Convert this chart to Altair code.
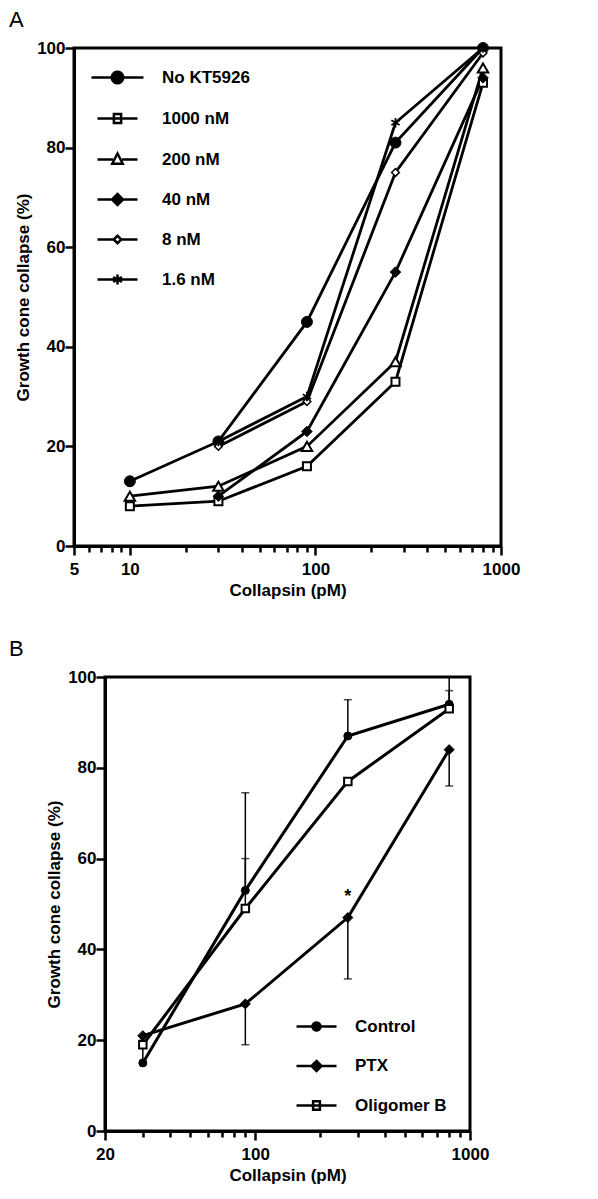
import math
import altair as alt
import pandas as pd

FONT = "Liberation Sans"

# ---------------- Panel A data ----------------
conc_a = [10, 30, 90, 270, 800]
series_a = ["No KT5926", "1000 nM", "200 nM", "40 nM", "8 nM", "1.6 nM"]
no_kt = [13, 21, 45, 81, 100]
nm1000 = [8, 9, 16, 33, 93]
nm200 = [10, 12, 20, 37, 96]
nm40 = [None, 10, 23, 55, 94]
nm8 = [None, 20, 29, 75, 99]
nm1_6 = [None, 21, 30, 85, 100]
values_a = [no_kt, nm1000, nm200, nm40, nm8, nm1_6]
x_ticks_a = [5, 6, 7, 8, 9, 10, 20, 30, 40, 50, 60, 70, 80, 90, 100,
             200, 300, 400, 500, 600, 700, 800, 900, 1000]
x_labels_a = [5, 10, 100, 1000]
y_ticks = [0, 20, 40, 60, 80, 100]

# ---------------- Panel B data ----------------
conc_b = [30, 90, 270, 800]
series_b = ["Control", "PTX", "Oligomer B"]
control = [15, 53, 87, 94]
ptx = [21, 28, 47, 84]
oligo = [19, 49, 77, 93]
values_b = [control, ptx, oligo]
control_err_end = [20, 74.5, 95, 100]
ptx_err_end = [None, 19, 33.5, 76]
oligo_err_end = [None, 60, None, 97]
err_ends_b = [control_err_end, ptx_err_end, oligo_err_end]
star_x = [270]
star_y = [51.5]
x_ticks_b = [20, 30, 40, 50, 60, 70, 80, 90, 100,
             200, 300, 400, 500, 600, 700, 800, 900, 1000]
x_labels_b = [20, 100, 1000]


def long_df(series, concs, values):
    rows = []
    for s, vals in zip(series, values):
        for c, v in zip(concs, vals):
            if v is not None:
                rows.append({"series": s, "conc": c, "value": v})
    return pd.DataFrame(rows)


df_a = long_df(series_a, conc_a, values_a)
df_b = long_df(series_b, conc_b, values_b)
err_rows = []
for s, vals, ends in zip(series_b, values_b, err_ends_b):
    for c, v, e in zip(conc_b, vals, ends):
        if e is not None:
            err_rows.append({"series": s, "conc": c, "value": v, "end": e})
df_err = pd.DataFrame(err_rows)
df_star = pd.DataFrame({"conc": star_x, "value": star_y})


# ---------------- symbol paths (styles) ----------------
def poly(pts):
    return "M" + "L".join(f"{x:.3f},{y:.3f}" for x, y in pts) + "Z"


def circle(r, n=20):
    return poly([(r * math.cos(2 * math.pi * k / n), r * math.sin(2 * math.pi * k / n)) for k in range(n)])


def triangle(r):
    return poly([(0, -1.15 * r), (r, 0.8 * r), (-r, 0.8 * r)])


def diamond(r):
    return poly([(0, -r), (r, 0), (0, r), (-r, 0)])


def square(r):
    return poly([(-0.8 * r, -r), (0.8 * r, -r), (0.8 * r, r), (-0.8 * r, r)])


def asterisk(r):
    a = 0.87 * r
    b = 0.5 * r
    return (f"M0,{-r}V{r}M{-a:.3f},{-b:.3f}L{a:.3f},{b:.3f}"
            f"M{-a:.3f},{b:.3f}L{a:.3f},{-b:.3f}")


def full_line(L):
    return f"M{-L},0H{L}"


def split_line(L, r):
    return f"M{-L},0H{-r}M{r},0H{L}"


legend_paths_a = [
    full_line(5.2) + circle(1.15),
    full_line(4.0) + square(0.9),
    split_line(4.0, 0.9) + triangle(1.05),
    full_line(4.0) + diamond(1.1),
    split_line(4.0, 0.75) + diamond(0.75),
    full_line(4.0) + asterisk(1.0),
]
legend_fill_a = ["black", "white", "white", "black", "white", "black"]

legend_paths_b = [
    full_line(4.0) + circle(0.8),
    full_line(4.0) + diamond(1.0),
    full_line(4.0) + square(0.85),
]
legend_fill_b = ["black", "black", "white"]

ASTER = asterisk(1.0)
marker_style_a = {
    "No KT5926": dict(shape="circle", size=120, fill="black", strokeWidth=1),
    "1000 nM": dict(shape="square", size=64, fill="white", strokeWidth=2),
    "200 nM": dict(shape="triangle-up", size=110, fill="white", strokeWidth=2),
    "40 nM": dict(shape="diamond", size=110, fill="black", strokeWidth=1),
    "8 nM": dict(shape="diamond", size=60, fill="white", strokeWidth=1.5),
    "1.6 nM": dict(shape=ASTER, size=90, fill="transparent", strokeWidth=1.8),
}
marker_style_b = {
    "Control": dict(shape="circle", size=64, fill="black", strokeWidth=1),
    "PTX": dict(shape="diamond", size=100, fill="black", strokeWidth=1),
    "Oligomer B": dict(shape="square", size=56, fill="white", strokeWidth=2),
}


def tick_test(labels):
    return " || ".join(f"datum.value == {v}" for v in labels)


def x_axis(ticks, labels):
    t = tick_test(labels)
    return alt.Axis(
        values=ticks,
        title="Collapsin (pM)",
        labelExpr=f"({t}) ? format(datum.value, 'd') : ''",
        tickSize={"condition": {"test": t, "value": 9}, "value": 6},
        labelOverlap=False,
        labelFlush=False,
        labelPadding=6,
        titlePadding=5,
    )


y_axis = alt.Axis(values=y_ticks, title="Growth cone collapse (%)", tickSize=9,
                  labelPadding=0, titlePadding=4)


def legend(pos, label_offset, row_pad):
    return alt.Legend(
        title=None, orient="none", legendX=pos[0], legendY=pos[1], padding=0,
        labelFont=FONT, labelFontSize=17, labelFontWeight="bold",
        labelColor="black", labelOffset=label_offset,
        labelLimit=300, rowPadding=row_pad, symbolSize=100,
        symbolStrokeWidth=2.5, symbolStrokeColor="black", symbolOpacity=1)


def panel(df, dferr, dfstar, series, styles, legend_paths, legend_fill, xdomain,
          ticks, labels, w, h, legend_pos, label_offset, row_pad, line_w):
    xenc = alt.X("conc:Q", scale=alt.Scale(type="log", domain=xdomain, nice=False),
                 axis=x_axis(ticks, labels))
    yenc = alt.Y("value:Q", scale=alt.Scale(domain=[0, 100], nice=False), axis=y_axis)
    base = alt.Chart(df)
    layers = [base.mark_line(color="black", strokeWidth=line_w).encode(
        x=xenc, y=yenc, detail="series:N")]
    if dferr is not None:
        eb = alt.Chart(dferr)
        layers.append(eb.mark_rule(color="black", strokeWidth=1.5).encode(
            x=xenc, y=yenc, y2="end:Q"))
        layers.append(eb.mark_tick(color="black", orient="horizontal", size=8,
                                   thickness=1.5).encode(
            x=xenc, y=alt.Y("end:Q", scale=alt.Scale(domain=[0, 100], nice=False),
                            axis=y_axis)))
    if dfstar is not None:
        layers.append(alt.Chart(dfstar).mark_text(
            text="*", font=FONT, fontSize=18, fontWeight="bold", color="black",
            baseline="middle").encode(x=xenc, y=yenc))
    for s in series:
        st = styles[s]
        layers.append(base.transform_filter(alt.datum.series == s).mark_point(
            shape=st["shape"], size=st["size"], fill=st["fill"], stroke="black",
            strokeWidth=st["strokeWidth"], opacity=1, fillOpacity=1).encode(
            x=xenc, y=yenc))
    # legend-only layer (no visible marks)
    lg = legend(legend_pos, label_offset, row_pad)
    layers.append(base.transform_filter("false").mark_point(
        size=100, strokeWidth=2.5, opacity=1, fillOpacity=1).encode(
        shape=alt.Shape("series:N", scale=alt.Scale(domain=series, range=legend_paths),
                        legend=lg),
        fill=alt.Fill("series:N", scale=alt.Scale(domain=series, range=legend_fill),
                      legend=lg),
        stroke=alt.Stroke("series:N", scale=alt.Scale(domain=series,
                                                      range=["black"] * len(series)),
                          legend=lg),
    ))
    return alt.layer(*layers).properties(width=w, height=h)


def spacer(w):
    return alt.Chart(pd.DataFrame({"a": [0]})).transform_filter("false").mark_point().properties(
        width=w, height=10, view=alt.ViewBackground(strokeOpacity=0))


def panel_title(t):
    return alt.TitleParams(t, anchor="start", frame="bounds", font=FONT, fontSize=22,
                           fontWeight="normal", color="black", offset=6)


chart_a = panel(df_a, None, None, series_a, marker_style_a, legend_paths_a, legend_fill_a,
                [5, 1000], x_ticks_a, x_labels_a, 427, 498, (100, 21), 36, 20, 2.8)

chart_b = panel(df_b, df_err, df_star, series_b, marker_style_b, legend_paths_b, legend_fill_b,
                [20, 1000], x_ticks_b, x_labels_b, 365, 454, (299, 341), 30, 19.5, 3)

row_a = alt.hconcat(spacer(4), chart_a, spacing=0).properties(title=panel_title("A"))
row_b = alt.hconcat(spacer(35), chart_b, spacing=0).properties(title=panel_title("B"))

chart = alt.vconcat(row_a, row_b, spacing=37).resolve_scale(
    shape="independent", fill="independent", stroke="independent"
).resolve_legend(shape="independent", fill="independent", stroke="independent").properties(
    padding={"left": 1, "top": 0, "right": 5, "bottom": 5}
).configure_view(stroke="black", strokeWidth=3).configure_axis(
    domainColor="black", domainWidth=3, tickColor="black", tickWidth=2.5,
    labelFont=FONT, labelFontSize=17, labelFontWeight="bold", labelColor="black",
    titleFont=FONT, titleFontSize=17, titleFontWeight="bold", titleColor="black",
    grid=False,
).configure_title(font=FONT, color="black")

chart.save("out.html", embed_options={"renderer": "svg", "actions": False})
